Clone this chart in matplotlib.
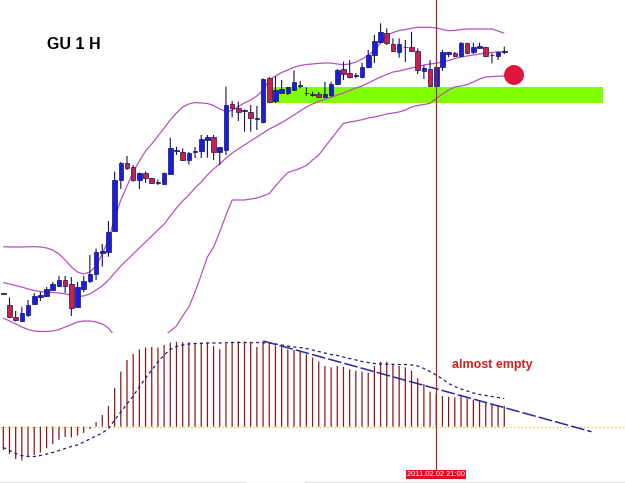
import numpy as np
import matplotlib
matplotlib.use('Agg')
import matplotlib.pyplot as plt
from matplotlib.patches import Rectangle
from matplotlib.lines import Line2D

# ---------------- data (screen-price units, y grows downward) ----------------
opens = [293.5, 305, 316.5, 320.5, 315, 304, 296.5, 296, 289.5, 286,
         280, 284, 306.5, 289, 281, 273.5, 252.5, 251.7, 230.5, 179.5,
         163.3, 167.3, 180, 172.5, 178.3, 182.8, 183.8, 174, 150.5, 151.7,
         160, 152, 150.7, 140, 137.3, 151.7, 150, 104.3, 108, 110.5,
         111.7, 118.5, 121.7, 78.3, 100.7, 92.7, 92.7, 90, 85.3, 92.5,
         94, 94, 96.7, 94.5, 84, 69, 72.7, 75.5, 77, 66.7,
         55, 41.7, 33.3, 44, 51.7, 47, 46.7, 50.7, 70.7, 69.3,
         86, 66.7, 53.5, 52.7, 56, 43.3, 51.7, 48.3, 47.3, 55,
         56, 51.5]
highs = [293, 297.5, 311, 306.7, 300, 293, 292, 287, 282, 276,
         276, 277, 282, 276, 255, 248.5, 244, 221, 171.7, 162,
         156, 165, 172.5, 171.5, 177.7, 179.5, 172.5, 137.7, 146.7, 148.3,
         152, 147, 135, 135, 135, 147, 86.7, 101, 101.7, 109.5,
         105, 106, 78.5, 77, 76, 80, 87, 70.5, 81, 87.3,
         91.7, 92, 81.7, 81.7, 69, 61.7, 60, 73, 62.7, 50,
         35, 23.3, 28.3, 38.3, 38.3, 40, 31.7, 48.3, 65, 60,
         66, 50, 52, 52, 42, 42.7, 42.7, 42.7, 46.7, 53.3,
         51.5, 46.7]
lows = [294, 318, 321.5, 321.5, 317, 305, 301, 297, 290.5, 287,
        293, 316, 307.5, 292, 283, 280, 266.7, 256.7, 231.7, 189,
        170, 181.7, 189, 183, 183.3, 185, 184.5, 175, 155, 161,
        164.5, 158, 158, 157.7, 160, 165, 155, 117.3, 121, 131.7,
        131.7, 130, 123.3, 103.3, 103, 93.5, 95, 91, 88.3, 95.7,
        96.7, 98, 97.3, 97, 85, 80, 78.3, 78.3, 78.3, 68.3,
        63, 43.3, 45, 52, 57.7, 62, 52, 74, 79, 87,
        87, 70.7, 57.3, 56.7, 56.7, 53.5, 54, 48.5, 57, 63.3,
        60, 54]
closes = [293.3, 317, 320, 313, 304.5, 295.5, 294.5, 289, 284, 280,
          286, 307.5, 287, 281, 274, 251.7, 250.5, 231.7, 180, 162.7,
          168.3, 179.5, 172.7, 178.3, 182.7, 182.4, 173, 148.3, 150, 159.7,
          153, 151.3, 139.3, 136.7, 151.7, 147.3, 105, 108.3, 111.7, 110,
          117.7, 118, 79.3, 101.7, 90.3, 89.3, 87.3, 81.7, 85, 92.8,
          94.3, 97.3, 94, 84.2, 70, 74, 76.7, 75, 66.7, 55,
          40.7, 31.7, 43.3, 50.7, 43.5, 46.7, 50.7, 69.5, 68.3, 86,
          66.7, 52, 52.3, 56, 42.7, 52.7, 47.3, 46, 56, 54.7,
          52, 51.2]

bb_upper = [246.7, 247, 247, 247, 246.8, 246.7, 247, 248, 250, 254,
            260, 267, 272, 274, 272, 266, 254, 240, 218, 200,
            186, 172, 161, 151, 144, 136, 128, 120, 113, 107,
            104, 102.5, 103, 103.5, 105.5, 109, 111.5, 110.5, 106.5, 103,
            100, 96, 90, 80, 76, 72.5, 70, 67.3, 65.5, 64.5,
            64, 63.3, 63, 63, 64, 64.7, 64, 62, 59, 55.5,
            50, 43, 35, 32.5, 30.5, 29.5, 28.3, 27.3, 27.3, 27.3,
            28, 29.5, 30.7, 30.5, 29.5, 29, 29, 29, 29, 29,
            31, 33.3]
bb_middle = [282.5, 284, 285.5, 287, 289, 290.5, 291.5, 292, 292.5, 293,
             294, 295, 296.5, 296, 294, 290, 286, 280, 273, 266,
             260, 254, 248, 242, 236, 230, 224, 216, 208, 201,
             195, 188, 182, 175, 169, 164, 158, 153, 149, 145,
             141, 137, 133, 129, 126, 122.5, 119, 115, 111, 107,
             104, 101.5, 99, 97.5, 95, 93, 90.5, 88, 86, 83,
             80, 77, 74.5, 72, 71, 69.5, 68, 66.5, 65, 64,
             63.3, 62, 60.5, 58.5, 57, 56, 55, 54, 53, 52.5,
             52, 51.5]
bb_lower = [318, 321, 324, 327, 329.5, 331, 331.5, 331.5, 331, 329.5,
            327, 324.5, 322, 321, 321, 322, 324, 328, 336, 342,
            347, 350, 352, 350, 346, 341, 336, 331, 326, 316,
            307, 292, 275, 257, 247, 232, 215, 200, 200, 200,
            199, 198, 196, 193.5, 186, 179, 172.5, 170.5, 168.3, 165.5,
            160, 155, 147, 139, 131, 123.3, 122, 121, 119.7, 118,
            117, 115.6, 114, 113, 112, 110, 107, 105.5, 104.5, 103.3,
            98.5, 94, 90, 87, 86, 84.7, 82, 79, 77, 76.6,
            76.2, 76]

# oscillator window (positive = up)
hist = [-23.3, -27.3, -32.3, -33.8, -29.8, -28.3, -25.8, -21.6, -17.5, -13,
        -10.3, -10.8, -8.8, -6.3, -2.3, 4.7, 11.7, 20.7, 38.7, 55.2,
        66.7, 72.7, 77.2, 79.2, 79.7, 79.2, 81.7, 84.2, 84.9, 84.5,
        84.5, 83.4, 83.9, 84.2, 80.7, 77.5, 83, 84.9, 85.3, 85,
        83.7, 79.7, 85.3, 82.5, 81.2, 79.7, 77.1, 76.7, 75.2, 72.4,
        69.2, 65.2, 60.9, 59.4, 60.7, 60, 57.4, 56, 55, 54,
        60.7, 65, 65, 62.7, 60.7, 59.4, 56, 48.4, 42.7, 35,
        33.2, 30.7, 30, 29.4, 30.7, 28.4, 26.7, 26, 24, 22.7,
        21.7, 20.7]
signal = [-20.8, -23.8, -26.8, -28.8, -29.8, -29.8, -28.8, -27.3, -25.8, -23.8,
          -21.8, -19.8, -18.3, -15.3, -12.3, -9.3, -6.3, -1.8, 6.7, 14.7,
          22.7, 30.7, 39.7, 48.7, 56.7, 64.7, 71.7, 77.2, 80.2, 81.7,
          82.7, 83.2, 83.4, 83.7, 83.7, 83.7, 83.9, 84.2, 84.2, 84.2,
          84.2, 84.2, 83.9, 83.4, 82.7, 81.7, 80.7, 79.7, 79.2, 78.2,
          76.7, 75.2, 73.7, 72.2, 71.2, 69.7, 68.2, 66.7, 65.2, 64.2,
          63.2, 62.7, 62.4, 62.4, 62.2, 62.2, 61.7, 60.7, 58.2, 55.2,
          51.7, 47.7, 43.2, 40.2, 37.7, 35.7, 33.7, 32.2, 31.2, 30.2,
          29.2, 28.2]

trend_x = [42.04, 95.1]
trend_y = [85.7, -5.0]

zone_x = [43.36, 97.0]
zone_y = [86.7, 102.7]
target_x = [82.57]
target_y = [75.0]
marker_bar = 70
marker_label = '2011.02.02 21:00'
title = 'GU 1 H'
note = 'almost empty'

# ---------------- layout ----------------
W, H = 625, 483
step, x0 = 6.185, 3.3
xl = (-x0 / step, (W - x0) / step)
main_h = 333
zero_px = 426.7

fig = plt.figure(figsize=(W / 100, H / 100), dpi=100, facecolor='white')
ax = fig.add_axes([0, (H - main_h) / H, 1, main_h / H])
ax.set_xlim(*xl)
ax.set_ylim(main_h, 0)
ax.axis('off')

ax2 = fig.add_axes([0, 0, 1, (H - main_h) / H])
ax2.set_xlim(*xl)
ax2.set_ylim(zero_px - H, zero_px - main_h)
ax2.axis('off')

idx = np.arange(len(opens))
o = np.array(opens); c = np.array(closes)
hi = np.array(highs); lo = np.array(lows)

band_c = '#b452c0'
wick_c = '#12125a'
bull_c = '#1c1ce0'
bear_c = '#cc1f4a'

# zone
ax.add_patch(Rectangle((zone_x[0], zone_y[0]), zone_x[1] - zone_x[0], zone_y[1] - zone_y[0],
                       facecolor='#80ff00', edgecolor='none', zorder=1))
# bands
for band in (bb_upper, bb_middle, bb_lower):
    ax.plot(idx, band, color=band_c, lw=0.9, zorder=2, solid_capstyle='butt')

# candles
ax.vlines(idx, hi, lo, colors=wick_c, lw=0.8, snap=False, zorder=3)
bull = c <= o
body_bot = np.minimum(o, c)
body_h = np.maximum(np.abs(o - c), 0.6)
ax.bar(idx, body_h, bottom=body_bot, width=0.74,
       color=np.where(bull, bull_c, bear_c), edgecolor=wick_c, linewidth=0.5, zorder=4)

# target circle
ax.scatter(target_x, target_y, s=205, color='#e0143c', edgecolors='none', zorder=5)

# vertical marker line
vline_c = '#a82820'
ax.axvline(marker_bar, color=vline_c, lw=0.9, zorder=6)
ax2.axvline(marker_bar, color=vline_c, lw=0.9, ymin=0.06, zorder=6)

# title
ax.text(7.0, 49, title, fontsize=11.5, fontweight='bold', family='Liberation Sans',
        color='black', ha='left', va='baseline')

# oscillator
ax2.vlines(idx, 0, hist, colors='#8a1a1a', lw=0.9, snap=False, zorder=2)
ax2.axhline(0, color='#f2c232', lw=0.8, linestyle=(0, (1.5, 2)), zorder=1)
ax2.plot(idx, signal, color='#1c1c78', lw=0.9, linestyle=(0, (2.5, 2.5)), zorder=3)
ax2.plot(trend_x, trend_y, color='#2a2a9a', lw=1.1, linestyle=(0, (9, 2)), zorder=4)

ax2.text(72.5, 59, note, color='#d02020', fontsize=9, fontweight='bold',
         family='Liberation Sans', ha='left', va='baseline')

ax2.text(marker_bar, zero_px - 474.2, marker_label, color='white', fontsize=5.4,
         family='Liberation Sans', ha='center', va='center', zorder=10,
         bbox=dict(boxstyle='square,pad=0.15', fc='#e01020', ec='none'))

# bottom border
yb = 0.5 / H
fig.add_artist(Line2D([0, 245 / W], [yb, yb], transform=fig.transFigure, color='black', lw=0.9))
fig.add_artist(Line2D([245 / W, 305 / W], [yb, yb], transform=fig.transFigure, color='#c8c8c8', lw=0.9))
fig.add_artist(Line2D([305 / W, 1], [yb, yb], transform=fig.transFigure, color='black', lw=0.9))

fig.savefig('out.png', dpi=100, facecolor='white')
